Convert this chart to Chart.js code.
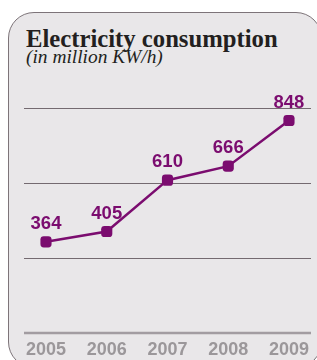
<!DOCTYPE html>
<html>
<head>
<meta charset="utf-8">
<script src="https://cdn.jsdelivr.net/npm/chart.js@4"></script>
<style>
  html, body { margin: 0; padding: 0; background: #fff; }
  body { width: 317px; height: 360px; position: relative; overflow: hidden; }
  .panel {
    position: absolute; left: 8px; top: 12px; width: 312px; height: 354px;
    background: #e9e7e9; border: 1.5px solid #7d7479; border-radius: 26px;
  }
  .title {
    position: absolute; left: 26px; top: 25.4px; line-height: 24.5px;
    font: bold 24.7px "Liberation Serif", serif; color: #231f20; white-space: nowrap;
  }
  .sub {
    position: absolute; left: 26px; top: 45.6px; line-height: 19px;
    font: italic 19.4px "Liberation Serif", serif; color: #231f20; white-space: nowrap;
  }
  #chart { position: absolute; left: 0; top: 0; }
</style>
</head>
<body>
<div class="panel"></div>
<div class="title">Electricity consumption</div>
<div class="sub">(in million KW/h)</div>
<canvas id="chart" width="317" height="367"></canvas>
<script>
const years = ['2005', '2006', '2007', '2008', '2009'];
const consumption = [364, 405, 610, 666, 848];
const gridValues = [300, 600, 900];

const purple = '#7b0c6f';

// horizontal rules, wider than the plot itself
const rules = {
    id: 'rules',
    beforeDatasetsDraw(chart) {
        const ctx = chart.ctx;
        const y = chart.scales.y;
        ctx.save();
        ctx.strokeStyle = '#746a70';
        ctx.lineWidth = 1;
        gridValues.forEach(v => {
            const py = Math.round(y.getPixelForValue(v)) + 0.5;
            ctx.beginPath();
            ctx.moveTo(24, py);
            ctx.lineTo(311, py);
            ctx.stroke();
        });
        ctx.strokeStyle = '#a29ca1';
        ctx.lineWidth = 2.5;
        const base = y.getPixelForValue(0);
        ctx.beginPath();
        ctx.moveTo(24, base);
        ctx.lineTo(311, base);
        ctx.stroke();
        ctx.restore();
    }
};

// value labels above each point
const valueLabels = {
    id: 'valueLabels',
    afterDatasetsDraw(chart) {
        const ctx = chart.ctx;
        const meta = chart.getDatasetMeta(0);
        ctx.save();
        ctx.fillStyle = purple;
        ctx.font = 'bold 18.5px "Liberation Sans", Arial, sans-serif';
        ctx.textAlign = 'center';
        ctx.textBaseline = 'alphabetic';
        meta.data.forEach((pt, i) => {
            ctx.fillText(String(consumption[i]), pt.x, pt.y - 13);
        });
        ctx.restore();
    }
};

new Chart(document.getElementById('chart'), {
    type: 'line',
    data: {
        labels: years,
        datasets: [{
            data: consumption,
            borderColor: purple,
            backgroundColor: purple,
            borderWidth: 2.5,
            pointStyle: 'rectRounded',
            pointRadius: 6.5,
            pointBackgroundColor: purple,
            pointBorderWidth: 0,
            tension: 0,
            clip: false
        }]
    },
    options: {
        responsive: false,
        animation: false,
        layout: { padding: { left: 46, right: 27, top: 107.5, bottom: 0 } },
        plugins: {
            legend: { display: false },
            tooltip: { enabled: false }
        },
        scales: {
            x: {
                offset: false,
                grid: { display: false, drawTicks: false },
                border: { display: false },
                ticks: {
                    color: '#9b979a',
                    padding: 8,
                    font: { family: '"Liberation Sans", Arial, sans-serif', size: 18, weight: 'bold', lineHeight: 1 },
                    maxRotation: 0,
                    autoSkip: false
                }
            },
            y: {
                display: false,
                min: 0,
                max: 900,
                ticks: { stepSize: 300 }
            }
        }
    },
    plugins: [rules, valueLabels]
});
</script>
</body>
</html>
